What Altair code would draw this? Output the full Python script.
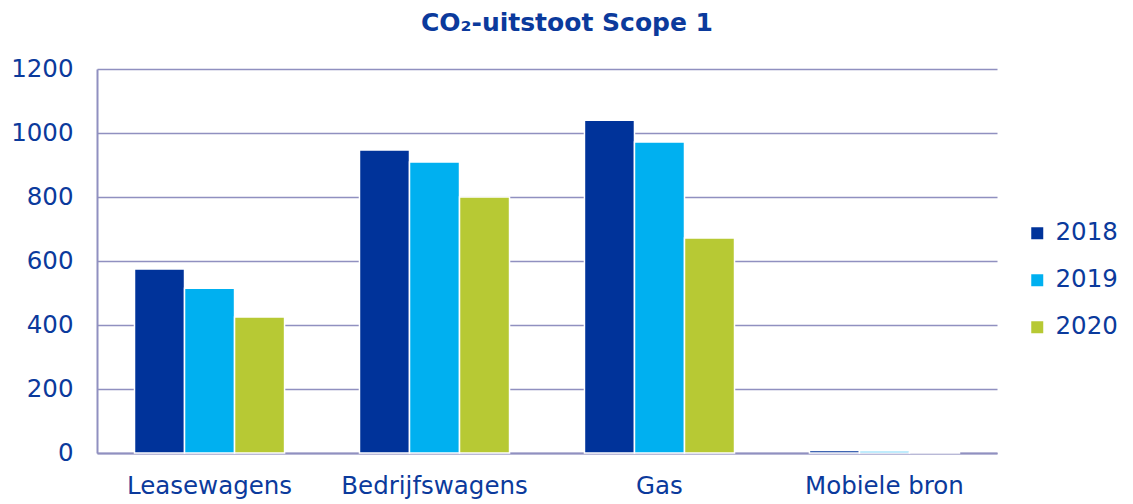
import altair as alt
import pandas as pd

categories = ["Leasewagens", "Bedrijfswagens", "Gas", "Mobiele bron"]
years = ["2018", "2019", "2020"]
v2018 = [575, 947, 1040, 8]
v2019 = [515, 909, 972, 6]
v2020 = [425, 800, 672, 1]

rows = []
for i, c in enumerate(categories):
    for y, vals in zip(years, [v2018, v2019, v2020]):
        rows.append({"categorie": c, "jaar": y, "waarde": vals[i]})
df = pd.DataFrame(rows)

text_color = "#0B3A9C"
grid_color = "#9090C0"
font = "DejaVu Sans"

bars = alt.Chart(df).mark_bar(stroke="white", strokeWidth=1.5).encode(
    x=alt.X("categorie:N", sort=categories, title=None,
            scale=alt.Scale(paddingInner=0.333, paddingOuter=0.1667),
            axis=alt.Axis(labelAngle=0, labelFontSize=24.5, labelColor=text_color,
                          labelFont=font, ticks=False, grid=False, domainColor=grid_color,
                          domainWidth=2, labelPadding=21, labelLimit=400)),
    xOffset=alt.XOffset("jaar:N", sort=years, scale=alt.Scale(paddingInner=0, paddingOuter=0)),
    y=alt.Y("waarde:Q", title=None,
            scale=alt.Scale(domain=[0, 1200], nice=False),
            axis=alt.Axis(values=[0, 200, 400, 600, 800, 1000, 1200], format="d",
                          labelFontSize=24.5,
                          labelColor=text_color, labelFont=font, ticks=False,
                          domainColor=grid_color, domainWidth=2, gridColor=grid_color,
                          gridWidth=1.5, gridOpacity=1, labelPadding=24)),
    color=alt.Color("jaar:N", sort=years, title=None,
                    scale=alt.Scale(domain=years, range=["#00339A", "#00B0F0", "#B7C934"]),
                    legend=alt.Legend(orient="none", legendX=928, legendY=152,
                                      symbolType="square", symbolSize=144,
                                      symbolStrokeWidth=0,
                                      labelFontSize=24.5, labelColor=text_color,
                                      labelFont=font, rowPadding=22, labelOffset=6)),
)

chart = bars.properties(
    width=900, height=384,
    background="white",
    title=alt.Title("CO₂-uitstoot Scope 1", fontSize=25, fontWeight="bold",
                    color=text_color, font=font, anchor="middle", dx=20, offset=20),
    autosize=alt.AutoSizeParams(type="none"),
    padding={"left": 89, "top": 61, "right": 128, "bottom": 46},
).configure_view(stroke="white", strokeWidth=0, strokeOpacity=0)

chart.save("out.html", embed_options={"renderer": "svg", "actions": False})
